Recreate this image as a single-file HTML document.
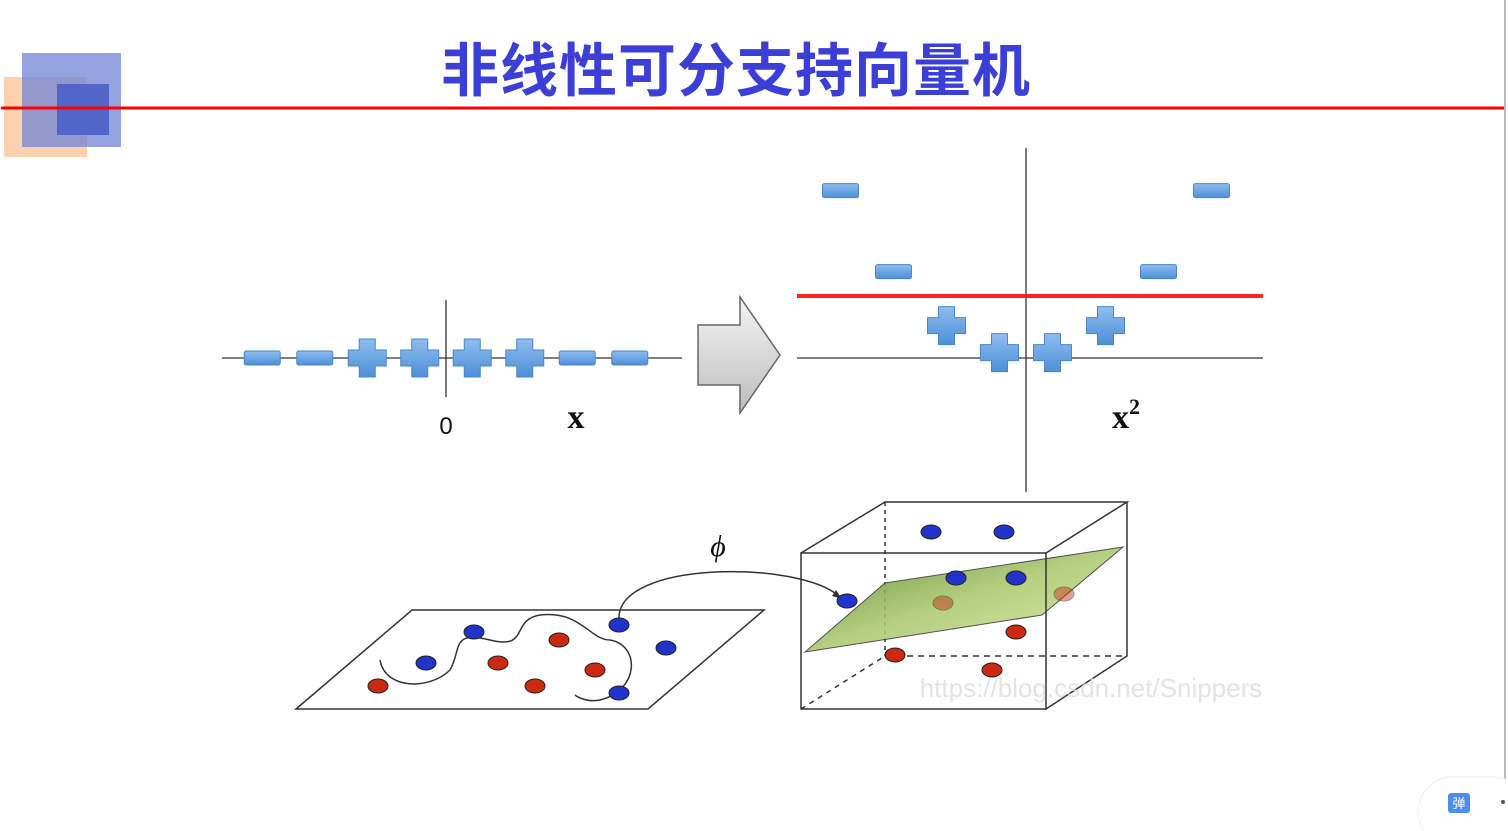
<!DOCTYPE html>
<html><head><meta charset="utf-8">
<style>
html,body{margin:0;padding:0;background:#fff;}
svg{display:block;}
</style></head>
<body>
<svg id="root" width="1508" height="831" viewBox="0 0 1508 831" xmlns="http://www.w3.org/2000/svg">
  <defs>
    <linearGradient id="blueg" x1="0" y1="0" x2="0" y2="1">
      <stop offset="0" stop-color="#8fbdf0"/><stop offset="1" stop-color="#4d8fd8"/>
    </linearGradient>
    <linearGradient id="arrowg" x1="0" y1="0" x2="0" y2="1">
      <stop offset="0" stop-color="#f4f4f4"/><stop offset="1" stop-color="#bdbdbd"/>
    </linearGradient>
    <linearGradient id="planeg" x1="0" y1="0" x2="1" y2="1">
      <stop offset="0" stop-color="#4f7a1e"/><stop offset="0.5" stop-color="#a9c66a"/><stop offset="1" stop-color="#d7ec9f"/>
    </linearGradient>
  </defs>

  <g>
    <rect x="4" y="77" width="83" height="80" fill="#fdc9a0" opacity="0.85"/>
    <rect x="22" y="53" width="99" height="94" fill="#7083d4" opacity="0.75"/>
    <rect x="57" y="84" width="52" height="51" fill="#4a5fc8" opacity="0.9"/>
  </g>
  <line x1="1" y1="108" x2="1506" y2="108" stroke="#f00" stroke-width="3"/>
  <text x="736" y="91" text-anchor="middle" font-family="'Liberation Sans','Noto Sans CJK SC',sans-serif" font-weight="bold" font-size="58" letter-spacing="1" fill="#3b3fd8">非线性可分支持向量机</text>
  <line x1="1505" y1="0" x2="1505" y2="831" stroke="#bbb" stroke-width="2"/>

  <g id="plot1">
    <line x1="222" y1="358" x2="682" y2="358" stroke="#333" stroke-width="1.3"/>
    <line x1="446" y1="300" x2="446" y2="397" stroke="#333" stroke-width="1.3"/>
    <text x="446" y="434" text-anchor="middle" font-family="'Liberation Sans',sans-serif" font-size="24" fill="#111">0</text>
    <text x="576" y="428" text-anchor="middle" font-family="'Liberation Serif',serif" font-weight="bold" font-size="34" fill="#111">x</text>
  </g>

  <polygon points="698,325 740,325 740,297 780,355 740,413 740,385 698,385" fill="url(#arrowg)" stroke="#666" stroke-width="1.5"/>

  <g id="plot2">
    <line x1="797" y1="358" x2="1263" y2="358" stroke="#333" stroke-width="1.3"/>
    <line x1="1026" y1="148" x2="1026" y2="492" stroke="#333" stroke-width="1.3"/>
    <line x1="797" y1="296" x2="1263" y2="296" stroke="#f22" stroke-width="4"/>
    <text x="1126" y="428" text-anchor="middle" font-family="'Liberation Serif',serif" font-weight="bold" font-size="34" fill="#111">x<tspan font-size="22" dy="-14">2</tspan></text>
  </g>

  <g>
    <polygon points="296,709 412,610 764,610 648,709" fill="#fff" stroke="#333" stroke-width="1.5"/>
    <path d="M380,660 C385,690 430,690 450,670 C462,650 450,630 490,640 C530,650 510,620 540,615 C580,610 590,640 610,640 C640,645 640,690 600,700 C585,703 575,695 575,695" fill="none" stroke="#333" stroke-width="1.5"/>
    <path d="M619,620 C615,560 800,560 840,597" fill="none" stroke="#333" stroke-width="1.5"/>
    <polygon points="842,599 832,596 836,590" fill="#333"/>
    <text x="718" y="556" text-anchor="middle" font-family="'Liberation Serif',serif" font-style="italic" font-size="30" fill="#111">ϕ</text>
  </g>
  <g id="dots2d"></g>

  <g>
    <line x1="885" y1="502" x2="885" y2="656" stroke="#333" stroke-width="1.5" stroke-dasharray="4,4"/>
    <line x1="885" y1="656" x2="1127" y2="656" stroke="#333" stroke-width="1.5" stroke-dasharray="6,5"/>
    <line x1="801" y1="709" x2="885" y2="656" stroke="#333" stroke-width="1.5" stroke-dasharray="5,5"/>
    <polygon points="805,652 885,583 1123,547 1042,615" fill="url(#planeg)" opacity="0.85" stroke="#333" stroke-width="1"/>
    <rect x="801" y="553" width="245" height="156" fill="none" stroke="#333" stroke-width="1.5"/>
    <polyline points="801,553 885,502 1127,502 1046,553" fill="none" stroke="#333" stroke-width="1.5"/>
    <polyline points="1127,502 1127,656 1046,709" fill="none" stroke="#333" stroke-width="1.5"/>
  </g>
  <g id="dots3d"></g>
  <text x="1091" y="697" text-anchor="middle" font-family="'Liberation Sans',sans-serif" font-size="26" fill="#ddd" opacity="0.8">https://blog.csdn.net/Snippers</text>

  <g>
    <rect x="1418" y="777" width="110" height="70" rx="35" fill="#fff" stroke="#eee"/>
    <rect x="1448" y="793" width="22" height="20" rx="3" fill="#4c8ef0"/>
    <text x="1459" y="808" text-anchor="middle" font-family="'Noto Sans CJK SC',sans-serif" font-size="13" fill="#fff">弹</text>
    <circle cx="1503" cy="802" r="2" fill="#555"/>
  </g>
</svg>
<script>
const xValues = [-3.5, -2.5, -1.5, -0.5, 0.5, 1.5, 2.5, 3.5];
const classes = ['-', '-', '+', '+', '+', '+', '-', '-'];
const xSquared = [12.25, 6.25, 2.25, 0.25, 0.25, 2.25, 6.25, 12.25];

const NS = 'http://www.w3.org/2000/svg';
function sx1(v){ return 446 + v * 52.5; }
function sx2(v){ return 1026 + v * 53; }
function sy2(v){ return 356 - v * 13.5; }

function drawMark(parent, cx, cy, cls){
  let el;
  if (cls === '-') {
    el = document.createElementNS(NS, 'rect');
    el.setAttribute('x', cx - 18); el.setAttribute('y', cy - 7);
    el.setAttribute('width', 36); el.setAttribute('height', 14); el.setAttribute('rx', 2);
    
    
  } else {
    el = document.createElementNS(NS, 'path');
    const a = 19, t = 8;
    el.setAttribute('d', `M${cx-t},${cy-a} h${2*t} v${a-t} h${a-t} v${2*t} h${-(a-t)} v${a-t} h${-2*t} v${-(a-t)} h${-(a-t)} v${-2*t} h${a-t} z`);
    
    
  }
  el.setAttribute('fill', 'url(#blueg)');
  el.setAttribute('stroke', '#4a86c8');
  el.setAttribute('stroke-width', '1');
  parent.appendChild(el);
}
const p1 = document.getElementById('plot1');
const p2 = document.getElementById('plot2');
xValues.forEach((v, i) => {
  drawMark(p1, sx1(v), 358, classes[i]);
  drawMark(p2, sx2(v), sy2(xSquared[i]), classes[i]);
});

const inputBlueX = [474, 426, 619, 666, 619];
const inputBlueY = [632, 663, 625, 648, 693];
const inputRedX = [559, 498, 595, 535, 378];
const inputRedY = [640, 663, 670, 686, 686];
const cubeBlueX = [931, 1004, 956, 1016, 847];
const cubeBlueY = [532, 532, 578, 578, 601];
const cubeRedX = [943, 1064, 1016, 895, 992];
const cubeRedY = [603, 594, 632, 655, 670];

function dot(parent, x, y, color, name, op){
  const c = document.createElementNS(NS, 'ellipse');
  c.setAttribute('cx', x); c.setAttribute('cy', y);
  c.setAttribute('rx', 10); c.setAttribute('ry', 7);
  c.setAttribute('fill', color);
  c.setAttribute('stroke', '#222'); c.setAttribute('stroke-width', '1');
  if (op) c.setAttribute('opacity', op);
  
  
  parent.appendChild(c);
}
const d2 = document.getElementById('dots2d');
inputBlueX.forEach((x, i) => dot(d2, x, inputBlueY[i], '#2233cc', 'blue-point'));
inputRedX.forEach((x, i) => dot(d2, x, inputRedY[i], '#cc2a10', 'red-point'));
const d3 = document.getElementById('dots3d');
cubeBlueX.forEach((x, i) => dot(d3, x, cubeBlueY[i], '#2233cc', 'blue-point'));
cubeRedX.forEach((x, i) => dot(d3, x, cubeRedY[i], '#cc2a10', 'red-point', (i < 2) ? 0.45 : null));
</script>
</body></html>
